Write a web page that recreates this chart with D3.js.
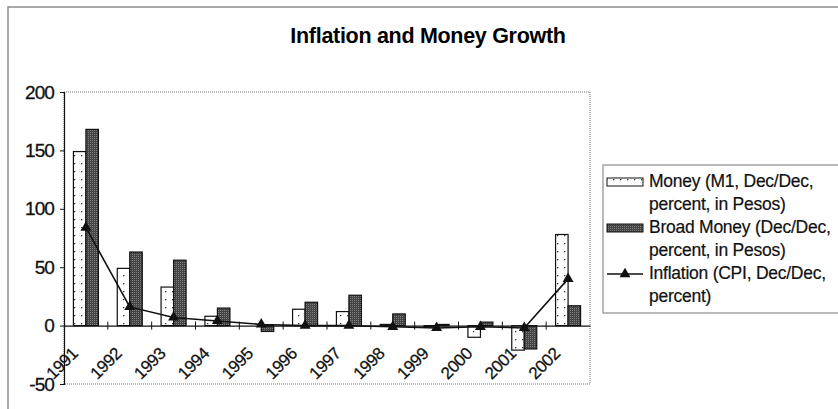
<html lang="en">
<head>
<meta charset="UTF-8">
<title>Inflation and Money Growth</title>
<script src="https://d3js.org/d3.v7.min.js"></script>
<style>
  body { margin: 0; background: #fff; }
  svg { display: block; font-family: "Liberation Sans", Arial, sans-serif; }
  .title { font-size: 21.5px; font-weight: bold; letter-spacing: -0.3px; }
  .y-axis text { font-size: 19px; letter-spacing: -0.9px; fill: #111; stroke: #111; stroke-width: 0.3px; }
  .x-axis text { font-size: 17px; letter-spacing: -0.4px; fill: #111; stroke: #111; stroke-width: 0.25px; }
  .legend text { font-size: 17.5px; letter-spacing: -0.25px; fill: #111; stroke: #111; stroke-width: 0.2px; }
</style>
</head>
<body>
<div id="chart"></div>
<script>
// Data
const years = ["1991", "1992", "1993", "1994", "1995", "1996", "1997", "1998", "1999", "2000", "2001", "2002"];
const money = [149, 49, 33, 8, 0, 14, 12, 1, -1, -10, -21, 78];        // M1, Dec/Dec, %
const broadMoney = [168, 63, 56, 15, -5, 20, 26, 10, 1, 3, -20, 17];  // Dec/Dec, %
const inflation = [84, 16, 7, 4, 1, 0, 0, -1, -2, -1, -2, 40];        // CPI, Dec/Dec, %
const yTicks = [-50, 0, 50, 100, 150, 200];

const svgWidth = 838, svgHeight = 409;
const plot = { left: 64, right: 590, top: 92, bottom: 384 };

const svg = d3.select("#chart").append("svg")
  .attr("width", svgWidth)
  .attr("height", svgHeight);

// fill patterns
const defs = svg.append("defs");
const dots = defs.append("pattern").attr("id", "dots")
  .attr("patternUnits", "userSpaceOnUse").attr("width", 7).attr("height", 8);
dots.append("rect").attr("width", 7).attr("height", 8).attr("fill", "#fff");
dots.append("rect").attr("x", 4).attr("y", 3).attr("width", 1.3).attr("height", 1.3).attr("fill", "#333");

const grain = defs.append("pattern").attr("id", "grain")
  .attr("patternUnits", "userSpaceOnUse").attr("width", 2).attr("height", 2);
grain.append("rect").attr("width", 2).attr("height", 2).attr("fill", "#444");
grain.append("rect").attr("width", 1).attr("height", 1).attr("fill", "#808080");

// outer frame
svg.append("rect")
  .attr("x", 8).attr("y", 7).attr("width", 860).attr("height", 430)
  .attr("fill", "none").attr("stroke", "#8c8c8c").attr("stroke-width", 1.5);

svg.append("text")
  .attr("class", "title")
  .attr("x", 428).attr("y", 43)
  .attr("text-anchor", "middle")
  .text("Inflation and Money Growth");

// scales
const x = d3.scaleBand().domain(years).range([plot.left, plot.right]).padding(0);
const xSub = d3.scaleBand().domain(["money", "broad"]).range([0, 25]);
const y = d3.scaleLinear().domain([-50, 200]).range([plot.bottom, plot.top]);
const cx = d => x(d) + x.bandwidth() / 2;

// plot area border (dotted)
svg.append("rect")
  .attr("x", plot.left).attr("y", plot.top)
  .attr("width", plot.right - plot.left).attr("height", plot.bottom - plot.top)
  .attr("fill", "none").attr("stroke", "#777").attr("stroke-dasharray", "1,1");

// bars
const rows = years.map((yr, i) => ({ year: yr, money: money[i], broad: broadMoney[i], infl: inflation[i] }));

const bar = (key, fill) => svg.append("g").selectAll("rect")
  .data(rows).join("rect")
  .attr("x", d => cx(d.year) - 12.5 + xSub(key))
  .attr("width", xSub.bandwidth())
  .attr("y", d => y(Math.max(0, d[key])))
  .attr("height", d => Math.abs(y(d[key]) - y(0)))
  .attr("fill", fill)
  .attr("stroke", "#111").attr("stroke-width", 1.2);

bar("money", "url(#dots)");
bar("broad", "url(#grain)");

// y axis
const yAxis = svg.append("g")
  .attr("class", "y-axis")
  .attr("transform", `translate(${plot.left},0)`)
  .call(d3.axisLeft(y).tickValues(yTicks).tickSize(4).tickPadding(6).tickFormat(d => String(d)));
yAxis.select(".domain").attr("stroke", "#111").attr("stroke-width", 1.2);
yAxis.selectAll("line").attr("stroke", "#111");

// x axis on the zero line
const xAxis = svg.append("g")
  .attr("class", "x-axis")
  .attr("transform", `translate(0,${y(0)})`)
  .call(d3.axisBottom(x).tickSize(0));
xAxis.select(".domain").attr("stroke", "#111").attr("stroke-width", 1.3);
xAxis.selectAll("text")
  .attr("x", 0).attr("y", 0).attr("dy", 0)
  .attr("text-anchor", "end")
  .attr("transform", "translate(-7,29) rotate(-45)");

// cross tick marks at category boundaries
svg.append("g").selectAll("line")
  .data(years.slice(1)).join("line")
  .attr("x1", d => x(d)).attr("x2", d => x(d))
  .attr("y1", y(0) - 4).attr("y2", y(0) + 4)
  .attr("stroke", "#111");

// inflation line + triangles
const line = d3.line().x(d => cx(d.year)).y(d => y(d.infl));
svg.append("path")
  .datum(rows)
  .attr("d", line)
  .attr("fill", "none").attr("stroke", "#111").attr("stroke-width", 1.6);

const tri = d3.symbol(d3.symbolTriangle, 52);
svg.append("g").selectAll("path")
  .data(rows).join("path")
  .attr("d", tri)
  .attr("transform", d => `translate(${cx(d.year)},${y(d.infl)})`)
  .attr("fill", "#111");

// legend
const legend = svg.append("g").attr("class", "legend");
legend.append("rect")
  .attr("x", 603).attr("y", 165).attr("width", 260).attr("height", 148)
  .attr("fill", "#fff").attr("stroke", "#8c8c8c").attr("stroke-width", 1.2);

const legendItems = [
  { lines: ["Money (M1, Dec/Dec,", "percent, in Pesos)"], base: 187, kind: "money" },
  { lines: ["Broad Money (Dec/Dec,", "percent, in Pesos)"], base: 233, kind: "broad" },
  { lines: ["Inflation (CPI, Dec/Dec,", "percent)"], base: 279, kind: "infl" }
];

legendItems.forEach(item => {
  if (item.kind === "infl") {
    legend.append("line")
      .attr("x1", 607).attr("x2", 643)
      .attr("y1", item.base - 5).attr("y2", item.base - 5)
      .attr("stroke", "#111").attr("stroke-width", 1.6);
    legend.append("path")
      .attr("d", tri)
      .attr("transform", `translate(625,${item.base - 5})`)
      .attr("fill", "#111");
  } else {
    legend.append("rect")
      .attr("x", 607).attr("y", item.base - 9).attr("width", 36).attr("height", 8)
      .attr("fill", item.kind === "money" ? "url(#dots)" : "url(#grain)")
      .attr("stroke", "#111");
  }
  item.lines.forEach((t, j) => {
    legend.append("text")
      .attr("x", 649).attr("y", item.base + j * 23)
      .text(t);
  });
});
</script>
</body>
</html>
